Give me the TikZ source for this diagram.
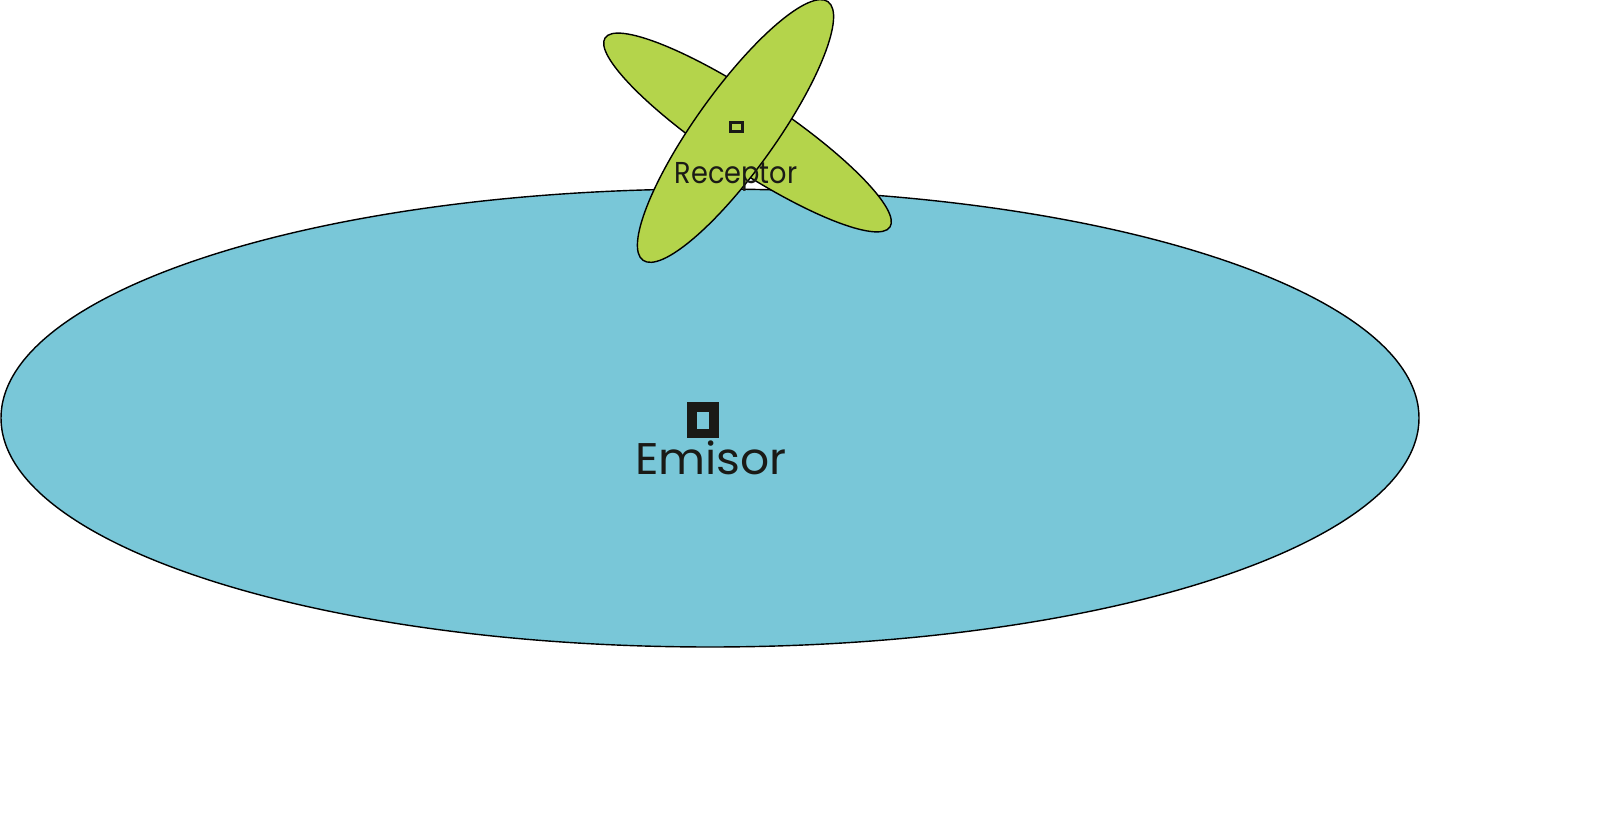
\documentclass[tikz,border=0pt]{standalone}
\usepackage{fontspec}
\setmainfont{Poppins}
\definecolor{agua}{RGB}{121,199,216}
\definecolor{hoja}{RGB}{180,212,75}
\definecolor{tinta}{RGB}{26,26,22}

\begin{document}
\begin{tikzpicture}[scale=0.1]
          \tikzstyle{every node}+=[inner sep=0pt, text=tinta]
          \useasboundingbox (0,0) rectangle (161.1,-82.8);
          \draw [black, fill=agua] (71,-41.8) ellipse (70.9 and 22.9);
          \draw [black, fill=hoja, rotate around={-33.6:(74.75,-13.25)}] (74.75,-13.25) ellipse (17.1 and 3.65);
          \draw [black, fill=hoja, rotate around={54.4:(73.55,-13.1)}] (73.55,-13.1) ellipse (15.9 and 4);
          \draw [tinta, line width=0.85pt] (73.05,-12.25) rectangle (74.25,-13.15);
          \draw [tinta, line width=2.7pt] (69.2,-40.7) rectangle (71.4,-43.35);
          \node [anchor=base, font=\fontsize{8.6}{10}\selectfont] (receptor) at (73.6,-18.4) {\scalebox{0.9}[1]{Receptor}};
          \node [anchor=base, font=\fontsize{12.6}{15}\selectfont] (emisor) at (71.1,-47.5) {\scalebox{1.03}[1]{Emisor}};
        \end{tikzpicture}
\end{document}
